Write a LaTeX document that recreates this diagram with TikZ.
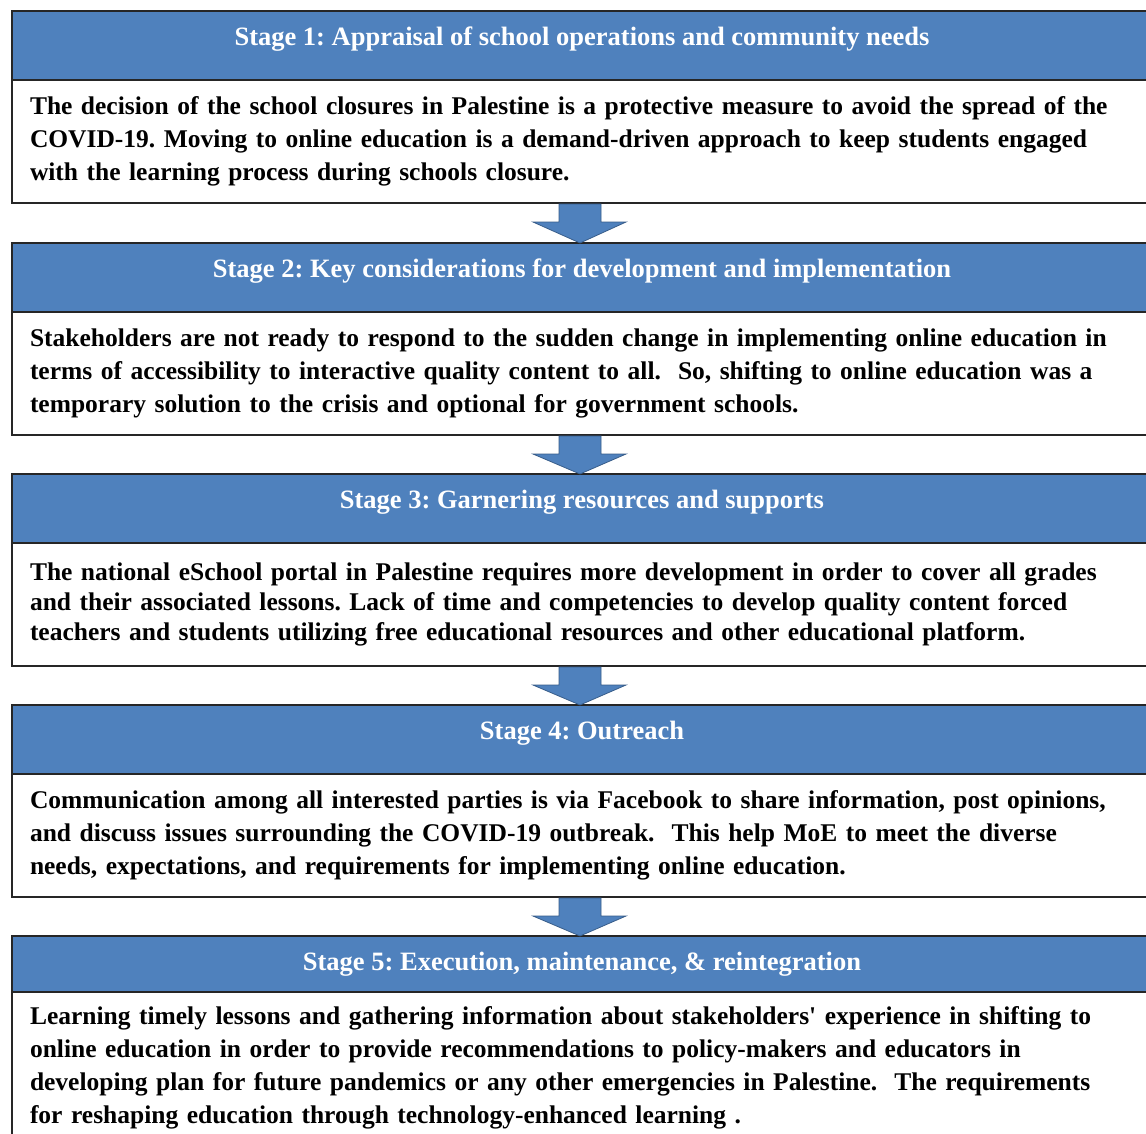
\documentclass[tikz,border=0pt]{standalone}
\usepackage{fontspec}
\setmainfont{Liberation Serif}
\frenchspacing
\usetikzlibrary{positioning, calc}
\definecolor{stageblue}{RGB}{79,129,189}
\definecolor{arrowline}{RGB}{56,93,138}
\tikzstyle{head} = [rectangle, draw=black!85, line width=1.6pt, outer sep=0pt, fill=stageblue, minimum width=1140pt, inner ysep=0pt, text height=34pt, text depth=35pt, text=white, font=\fontsize{26.5}{30}\selectfont\bfseries]
\tikzstyle{body} = [rectangle, draw=black!85, line width=1.6pt, outer sep=0pt, fill=white, text width=1104pt, inner xsep=18pt, minimum height=123pt, align=left, font=\fontsize{25.5}{33}\selectfont\bfseries]
\tikzstyle{blockarrow} = [fill=stageblue, draw=arrowline, line width=0.8pt, line join=miter]

\begin{document}
\begin{tikzpicture}[x=1pt, y=1pt]
        \clip (0,0) rectangle (1146,-1133);
        \fill[white] (0,0) rectangle (1146,-1133);

        \node[head] (h1) at (582,-11) [anchor=north] {Stage 1: Appraisal of school operations and community needs};
        \node[body, below=0pt of h1] (b1) {The decision of the school closures in Palestine is a protective measure to avoid the spread of the\\
        COVID-19. Moving to online education is a demand-driven approach to keep students engaged\\
        with the learning process during schools closure.};

        \node[head, below=40pt of b1] (h2) {Stage 2: Key considerations for development and implementation};
        \node[body, below=0pt of h2] (b2) {Stakeholders are not ready to respond to the sudden change in implementing online education in\\
        terms of accessibility to interactive quality content to all.~ So, shifting to online education was a\\
        temporary solution to the crisis and optional for government schools.};

        \node[head, below=39pt of b2] (h3) {Stage 3: Garnering resources and supports};
        \node[body, below=0pt of h3, font=\fontsize{25.5}{30}\selectfont\bfseries] (b3) {The national eSchool portal in Palestine requires more development in order to cover all grades\\
        and their associated lessons. Lack of time and competencies to develop quality content forced\\
        teachers and students utilizing free educational resources and other educational platform.};

        \node[head, below=39pt of b3] (h4) {Stage 4: Outreach};
        \node[body, below=0pt of h4] (b4) {Communication among all interested parties is via Facebook to share information, post opinions,\\
        and discuss issues surrounding the COVID-19 outbreak.~ This help MoE to meet the diverse\\
        needs, expectations, and requirements for implementing online education.};

        \node[head, below=39pt of b4, text depth=22pt] (h5) {Stage 5: Execution, maintenance, \& reintegration};
        \node[body, below=0pt of h5, minimum height=151pt] (b5) {Learning timely lessons and gathering information about stakeholders\textquotesingle{} experience in shifting to\\
        online education in order to provide recommendations to policy-makers and educators in\\
        developing plan for future pandemics or any other emergencies in Palestine.~ The requirements\\
        for reshaping education through technology-enhanced learning .};

        % block arrows between the stages
        \foreach \a/\b in {b1/h2, b2/h3, b3/h4, b4/h5}
        {\draw[blockarrow] ($(\a.south)+(-23,-1)$) -- ($(\a.south)+(19,-1)$) -- ($(\a.south)+(19,-19)$)
            -- ($(\a.south)+(44,-19)$) -- ($(\b.north)+(-2,0)$) -- ($(\a.south)+(-49,-19)$)
            -- ($(\a.south)+(-23,-19)$) -- cycle;}
\end{tikzpicture}
\end{document}
